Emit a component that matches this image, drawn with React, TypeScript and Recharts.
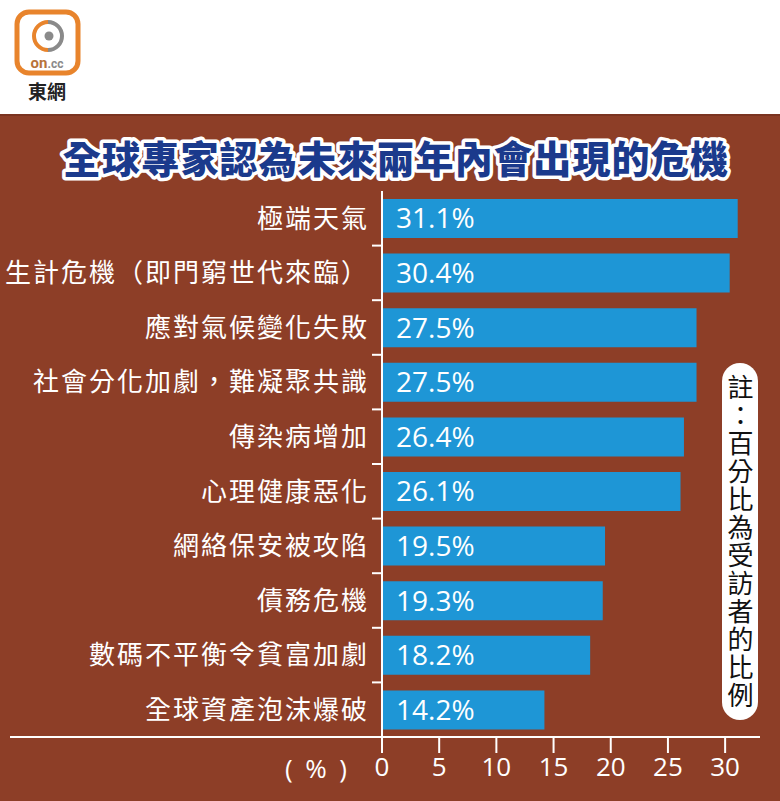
import React from 'react';
import { BarChart, Bar, XAxis, YAxis, LabelList } from 'recharts';

const categories = [
  '極端天氣',
  '生計危機（即門窮世代來臨）',
  '應對氣候變化失敗',
  '社會分化加劇，難凝聚共識',
  '傳染病增加',
  '心理健康惡化',
  '網絡保安被攻陷',
  '債務危機',
  '數碼不平衡令貧富加劇',
  '全球資產泡沫爆破',
];
const shares = [31.1, 30.4, 27.5, 27.5, 26.4, 26.1, 19.5, 19.3, 18.2, 14.2];
const xTicks = [0, 5, 10, 15, 20, 25, 30];

const title = '全球專家認為未來兩年內會出現的危機';
const note = '註：百分比為受訪者的比例';

const data = categories.map((name, i) => ({ name, value: shares[i] }));

const BROWN = '#8D3E27';
const BLUE = '#1E96D6';
const CJK = '"Noto Sans CJK TC", "Noto Sans CJK SC", sans-serif';
const NUM = '"Open Sans", "Noto Sans", sans-serif';

const W = 780;
const H = 801;
const PLOT_TOP = 191;
const PLOT_BOTTOM = 737;
const AXIS_X = 382;
const X_AXIS_H = 50;
const ROW = (PLOT_BOTTOM - PLOT_TOP) / categories.length;

// category label + small tick mark on the boundary above each row
const CategoryTick = (props: any) => {
  const { x, y, payload, index } = props;
  return (
    <g>
      {index > 0 && (
        <line x1={AXIS_X - 10} x2={AXIS_X} y1={y - ROW / 2} y2={y - ROW / 2} stroke="#fff" strokeWidth={2} />
      )}
      <text x={x + 2} y={y} dy="0.36em" textAnchor="end" fill="#fff" fontSize={26} letterSpacing={2} fontFamily={CJK}>
        {payload.value}
      </text>
    </g>
  );
};

const Logo = () => (
  <svg width={100} height={110} style={{ position: 'absolute', left: 0, top: 0 }}>
    <rect x={17} y={12} width={61} height={61} rx={12} fill="#fff" stroke="#E8842C" strokeWidth={5} />
    <path d="M 48 22 A 14 14 0 0 0 48 50" fill="none" stroke="#E8842C" strokeWidth={4} />
    <path d="M 48 22 A 14 14 0 0 1 48 50" fill="none" stroke="#8a8a8a" strokeWidth={4} />
    <circle cx={49} cy={36} r={4.5} fill="#8a8a8a" />
    <text x={47} y={68} textAnchor="middle" fontSize={15} fontWeight={700} fontFamily="Roboto, sans-serif">
      <tspan fill="#B8733A">on</tspan>
      <tspan fill="#8a8a8a" fontSize={12}>.cc</tspan>
    </text>
    <text x={47} y={99} textAnchor="middle" fontSize={19} fontWeight={700} fill="#222" fontFamily={CJK}>
      東網
    </text>
  </svg>
);

export default function App() {
  return (
    <div style={{ position: 'absolute', left: 0, top: 0, width: W, height: H, background: '#fff', overflow: 'hidden' }}>
      <Logo />
      <div
        style={{
          position: 'absolute',
          left: 0,
          top: 114,
          width: W,
          height: H - 114,
          background: BROWN,
          borderTop: '2px solid #7A3320',
        }}
      />
      <svg width={W} height={190} style={{ position: 'absolute', left: 0, top: 0 }}>
        <text
          x={396}
          y={173}
          textAnchor="middle"
          fontSize={38}
          letterSpacing={1.2}
          fontWeight={900}
          fontFamily={CJK}
          fill="#1B3A8C"
          stroke="#fff"
          strokeWidth={7}
          strokeLinejoin="round"
          paintOrder="stroke"
        >
          {title}
        </text>
      </svg>
      <div style={{ position: 'absolute', left: 10, top: PLOT_BOTTOM - 1, width: 750, height: 2, background: '#fff' }} />
      <div style={{ position: 'absolute', left: 0, top: 0 }}>
        <BarChart
          width={W}
          height={H}
          data={data}
          layout="vertical"
          margin={{ top: PLOT_TOP, right: 32, bottom: H - PLOT_BOTTOM - X_AXIS_H, left: 0 }}
          barSize={39}
        >
          <XAxis
            type="number"
            domain={[0, 32]}
            ticks={xTicks}
            height={X_AXIS_H}
            axisLine={false}
            tickLine={{ stroke: '#fff', strokeWidth: 2 }}
            tickSize={16}
            tickMargin={5}
            tick={{ fill: '#fff', fontSize: 26, fontFamily: NUM }}
          />
          <YAxis
            type="category"
            dataKey="name"
            width={AXIS_X}
            axisLine={{ stroke: '#fff', strokeWidth: 2 }}
            tickLine={false}
            tickSize={0}
            tickMargin={15}
            tick={<CategoryTick />}
            interval={0}
          />
          <Bar dataKey="value" fill={BLUE} isAnimationActive={false}>
            <LabelList
              dataKey="value"
              position="insideLeft"
              offset={14}
              formatter={(v: any) => `${v}%`}
              fill="#fff"
              fontSize={28}
              fontFamily={NUM}
            />
          </Bar>
        </BarChart>
      </div>
      <div
        style={{
          position: 'absolute',
          left: 285,
          top: 752,
          width: 62,
          display: 'flex',
          justifyContent: 'space-between',
          color: '#fff',
          fontSize: 26,
          lineHeight: '32px',
          fontFamily: NUM,
        }}
      >
        <span>(</span>
        <span>%</span>
        <span>)</span>
      </div>
      <div
        style={{
          position: 'absolute',
          left: 722,
          top: 363,
          width: 36,
          height: 357,
          background: '#fff',
          borderRadius: 18,
          display: 'flex',
          justifyContent: 'center',
          alignItems: 'center',
        }}
      >
        <div
          style={{
            writingMode: 'vertical-rl',
            fontSize: 26,
            letterSpacing: 2,
            color: '#111',
            fontFamily: CJK,
            lineHeight: 1,
          }}
        >
          {note}
        </div>
      </div>
    </div>
  );
}
